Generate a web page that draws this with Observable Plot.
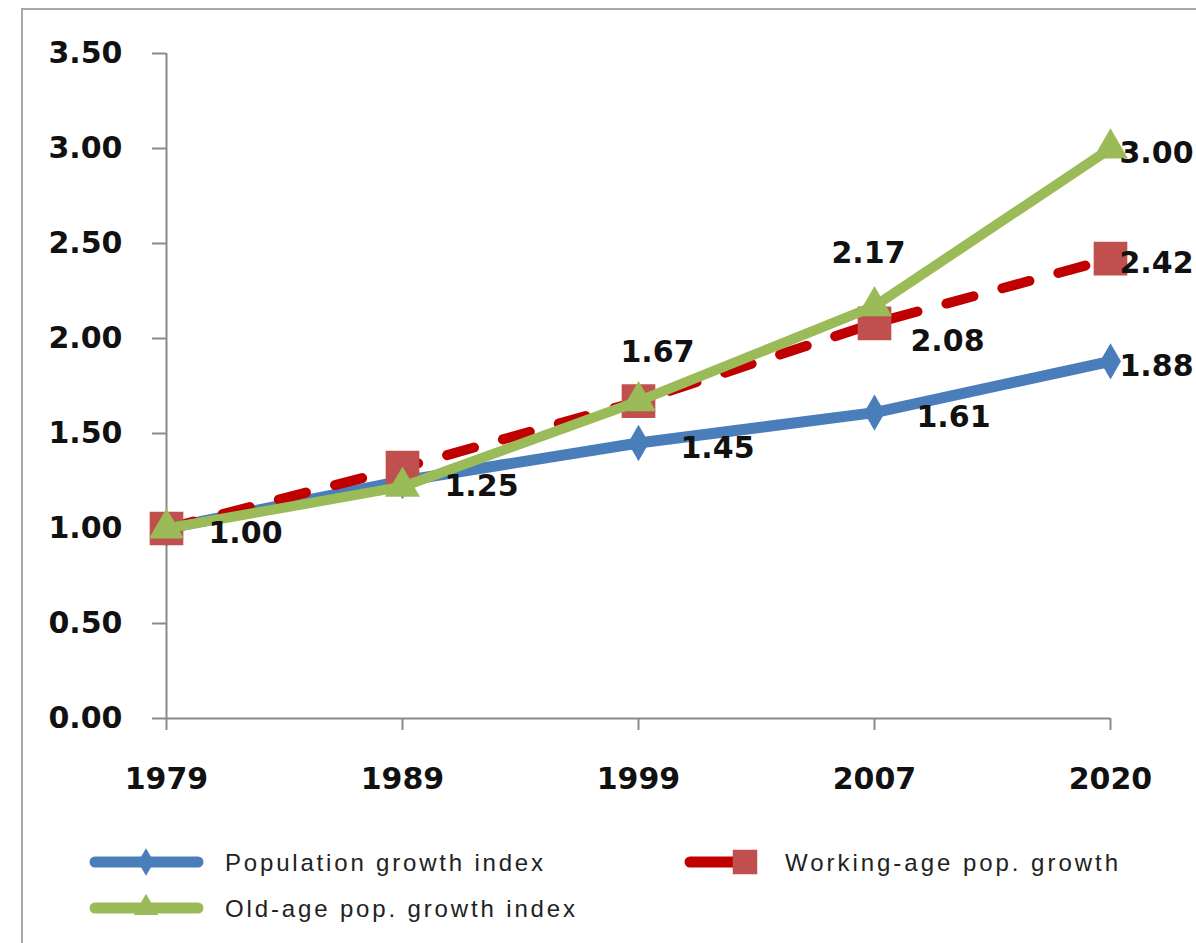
<!DOCTYPE html>
<html><head><meta charset="utf-8">
<script src="https://cdn.jsdelivr.net/npm/d3@7"></script>
<script src="https://cdn.jsdelivr.net/npm/@observablehq/plot@0.6"></script>
<style>
html,body{margin:0;padding:0;background:#fff}
body{width:1196px;height:943px;overflow:hidden;position:relative;font-family:"DejaVu Sans",sans-serif}
#chart{position:absolute;left:0;top:0}
#legend{position:absolute;left:0;top:830px}
#frame{position:absolute;left:21px;top:8px;width:1180px;height:940px;border-left:2px solid #a8a8a8;border-top:2px solid #a8a8a8;pointer-events:none}
</style></head><body>
<div id="chart"></div><div id="legend"></div><div id="frame"></div>
<script>
// ---- data ----
const years = ["1979", "1989", "1999", "2007", "2020"];
const seriesNames = ["Population growth index", "Working-age pop. growth", "Old-age pop. growth index"];
const populationIndex = [1.00, 1.25, 1.45, 1.61, 1.88];
const workingAgeIndex = [1.00, 1.32, 1.67, 2.08, 2.42];
const oldAgeIndex = [1.00, 1.22, 1.67, 2.17, 3.00];
const yTicks = [0, 0.5, 1, 1.5, 2, 2.5, 3, 3.5];
// data labels shown: series index, year, placement
const labelSeriesIdx = [0, 0, 0, 0, 0, 1, 1, 2, 2, 2];
const labelYears = ["1979", "1989", "1999", "2007", "2020", "2007", "2020", "1999", "2007", "2020"];
const labelPlacement = ["right", "right", "right", "right", "end", "rightLow", "end", "aboveRight", "above", "end"];

// ---- build tables ----
const seriesValues = [populationIndex, workingAgeIndex, oldAgeIndex];
const rows = seriesNames.map((s, si) => years.map((y, i) => ({series: s, year: y, value: seriesValues[si][i]})));
const labels = labelSeriesIdx.map((si, i) => ({
  series: seriesNames[si], year: labelYears[i], placement: labelPlacement[i],
  value: seriesValues[si][years.indexOf(labelYears[i])]
}));

const colors = {
  blueLine: "#4A7EBB", blueMark: "#4A7EBB",
  redLine: "#C00000", redMark: "#C0504D",
  greenLine: "#9BBB59", greenMark: "#9BBB59"
};
const fmt = d3.format(".2f");
const labelFont = {fontSize: 30, fontWeight: "bold", fontFamily: "DejaVu Sans", fill: "#111"};
const placements = {
  right: {dx: 42, dy: 5, textAnchor: "start"},
  rightLow: {dx: 36, dy: 18, textAnchor: "start"},
  end: {dx: 9, dy: 5, textAnchor: "start"},
  aboveRight: {dx: 19, dy: -49, textAnchor: "middle"},
  above: {dx: -6, dy: -53, textAnchor: "middle"}
};

const chart = Plot.plot({
  width: 1196, height: 830,
  marginLeft: 166, marginRight: 86, marginTop: 53, marginBottom: 112,
  style: {background: "transparent", overflow: "visible"},
  x: {type: "point", domain: years, padding: 0, axis: null},
  y: {domain: [0, 3.5], axis: null},
  marks: [
    Plot.ruleX([years[0]], {y1: 0, y2: 3.5, stroke: "#8a8a8a", strokeWidth: 2}),
    Plot.ruleY([0], {stroke: "#8a8a8a", strokeWidth: 2}),
    Plot.axisY({ticks: yTicks, tickFormat: fmt, tickSize: 14, tickPadding: 30, label: null, stroke: "#8a8a8a", strokeWidth: 2, ...labelFont}),
    Plot.axisX({tickSize: 12, tickPadding: 37, label: null, stroke: "#8a8a8a", strokeWidth: 2, ...labelFont}),
    // Population growth index
    Plot.line(rows[0], {x: "year", y: "value", stroke: colors.blueLine, strokeWidth: 11, strokeLinejoin: "round", strokeLinecap: "round"}),
    Plot.dot(rows[0], {x: "year", y: "value", symbol: "diamond", r: 11, fill: colors.blueMark, stroke: "none"}),
    // Working-age
    Plot.line(rows[1], {x: "year", y: "value", stroke: colors.redLine, strokeWidth: 10, strokeDasharray: "28,30", strokeLinecap: "round", strokeLinejoin: "round"}),
    Plot.dot(rows[1], {x: "year", y: "value", symbol: "square", r: 19, fill: colors.redMark, stroke: "none"}),
    // Old-age
    Plot.line(rows[2], {x: "year", y: "value", stroke: colors.greenLine, strokeWidth: 10, strokeLinejoin: "round", strokeLinecap: "round"}),
    Plot.dot(rows[2], {x: "year", y: "value", symbol: "triangle", r: 13, fill: colors.greenMark, stroke: "none"}),
    // data labels
    ...Object.entries(placements).map(([k, p]) =>
      Plot.text(labels.filter(d => d.placement === k), {x: "year", y: "value", text: d => fmt(d.value), ...p, ...labelFont}))
  ]
});
document.getElementById("chart").appendChild(chart);

// ---- legend ----
const lg = d3.select("#legend").append("svg").attr("width", 1196).attr("height", 113);
const legendItems = [
  {name: seriesNames[0], x0: 95, x1: 198, tx: 225, y: 32, tw: 318, line: colors.blueLine, mark: colors.blueMark, sym: d3.symbolDiamond, size: 220, sx: 146},
  {name: seriesNames[1], x0: 690, x1: 735, tx: 785, y: 32, tw: 333, line: colors.redLine, mark: colors.redMark, sym: d3.symbolSquare, size: 600, sx: 745, dash: true},
  {name: seriesNames[2], x0: 95, x1: 198, tx: 225, y: 78, tw: 350, line: colors.greenLine, mark: colors.greenMark, sym: d3.symbolTriangle, size: 260, sx: 146}
];
for (const it of legendItems) {
  lg.append("line").attr("x1", it.x0).attr("x2", it.x1).attr("y1", it.y).attr("y2", it.y)
    .attr("stroke", it.line).attr("stroke-width", 11).attr("stroke-linecap", "round");
  lg.append("path").attr("d", d3.symbol(it.sym, it.size)()).attr("transform", `translate(${it.sx},${it.y})`).attr("fill", it.mark);
  lg.append("text").attr("x", it.tx).attr("y", it.y + 9).attr("font-family", "Liberation Sans").attr("font-size", 24)
    .attr("fill", "#222").attr("textLength", it.tw).attr("lengthAdjust", "spacing").text(it.name);
}
</script>
</body></html>
